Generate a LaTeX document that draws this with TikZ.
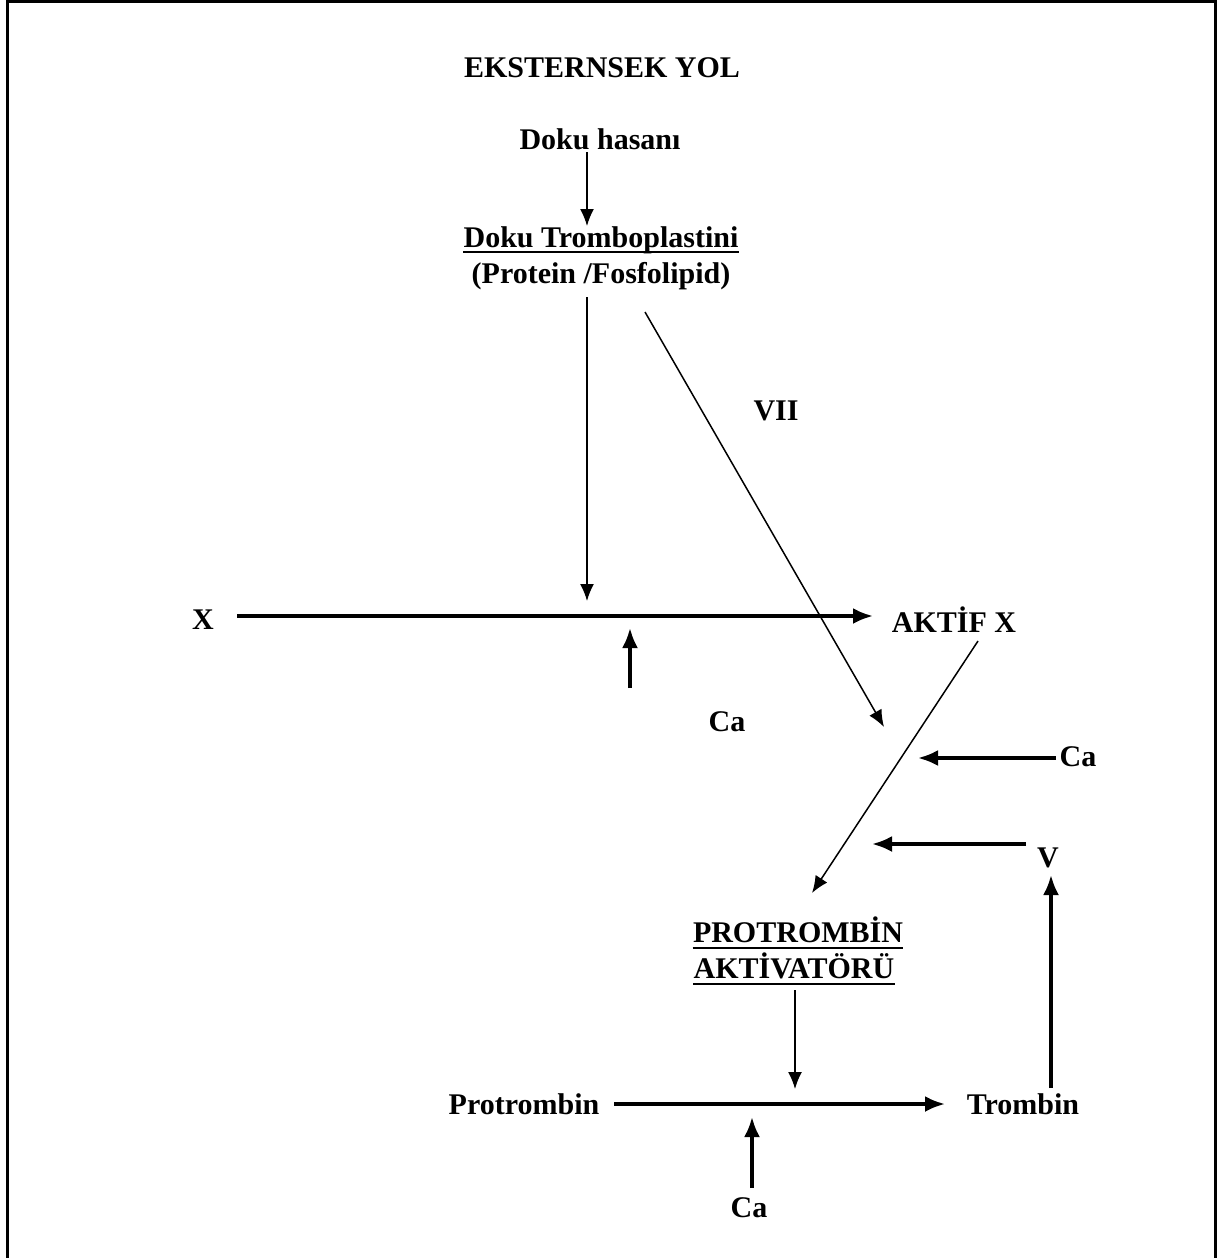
\documentclass[tikz,border=0pt]{standalone}
\usepackage{fontspec}
\setmainfont{Liberation Serif}
\usetikzlibrary{arrows.meta}
\begin{document}
\begin{tikzpicture}[x=0.5pt,y=-0.5pt,
  lbl/.style={font=\fontsize{15}{17}\selectfont\bfseries, inner sep=0pt, anchor=center},
  thinarr/.style={line width=0.75pt,-{Latex[length=8.5pt,width=7pt]}},
  thickarr/.style={line width=1.7pt,-{Latex[length=10pt,width=8pt]}},
  uline/.style={line width=1.1pt},
  frame/.style={line width=1.5pt}
]
\useasboundingbox (0,0) rectangle (1227,1258);
\draw[frame] (7,1258) -- (7,1) -- (1215,1) -- (1215,1258);

% texts
\node[lbl] (title) at (602,68) {EKSTERNSEK YOL};
\node[lbl] (hasar) at (600,139) {Doku hasanı};
\node[lbl] (trombo) at (601,240) {Doku Tromboplastini};
\node[lbl] (protfos) at (601,276) {(Protein /Fosfolipid)};
\node[lbl] (vii) at (776,411) {VII};
\node[lbl] (x) at (203,620) {X};
\node[lbl] (aktif) at (954,620) {AKTİF X};
\node[lbl] (ca1) at (727,722) {Ca};
\node[lbl] (ca2) at (1078,757) {Ca};
\node[lbl] (v) at (1048,858) {V};
\node[lbl] (pa1) at (798,930) {PROTROMBİN};
\node[lbl] (pa2) at (794,966) {AKTİVATÖRÜ};
\node[lbl] (prot) at (524,1104) {Protrombin};
\node[lbl] (tromb) at (1023,1104) {Trombin};
\node[lbl] (ca3) at (749,1208) {Ca};

% underlines
\draw[uline] ([yshift=-2.2pt]trombo.base west) -- ([yshift=-2.2pt]trombo.base east);
\draw[uline] ([yshift=-2.5pt]pa1.base west) -- ([yshift=-2.5pt]pa1.base east);
\draw[uline] ([yshift=-2.5pt]pa2.base west) -- ([yshift=-2.5pt]pa2.base east);

% coordinates for arrow ends
\coordinate (h1) at (587,152);
\coordinate (h2) at (587,226);
\coordinate (t1) at (587,297);
\coordinate (t2) at (587,601);
\coordinate (d1) at (645,312);
\coordinate (d2) at (884,727);
\coordinate (xs) at (237,616);
\coordinate (xe) at (873,616);
\coordinate (c1s) at (630,688);
\coordinate (c1e) at (630,628);
\coordinate (a1) at (978,641);
\coordinate (a2) at (812,893);
\coordinate (c2s) at (1056,758);
\coordinate (c2e) at (918,758);
\coordinate (vs) at (1026,844);
\coordinate (ve) at (872,844);
\coordinate (ts) at (1051,1088);
\coordinate (te) at (1051,875);
\coordinate (ps) at (795,990);
\coordinate (pe) at (795,1089);
\coordinate (rs) at (614,1104);
\coordinate (re) at (945,1104);
\coordinate (c3s) at (752,1188);
\coordinate (c3e) at (752,1117);

\draw[thinarr] (h1) -- (h2);
\draw[thinarr] (t1) -- (t2);
\draw[thinarr] (d1) -- (d2);
\draw[thickarr] (xs) -- (xe);
\draw[thickarr] (c1s) -- (c1e);
\draw[thinarr] (a1) -- (a2);
\draw[thickarr] (c2s) -- (c2e);
\draw[thickarr] (vs) -- (ve);
\draw[thickarr] (ts) -- (te);
\draw[thinarr] (ps) -- (pe);
\draw[thickarr] (rs) -- (re);
\draw[thickarr] (c3s) -- (c3e);
\end{tikzpicture}
\end{document}
